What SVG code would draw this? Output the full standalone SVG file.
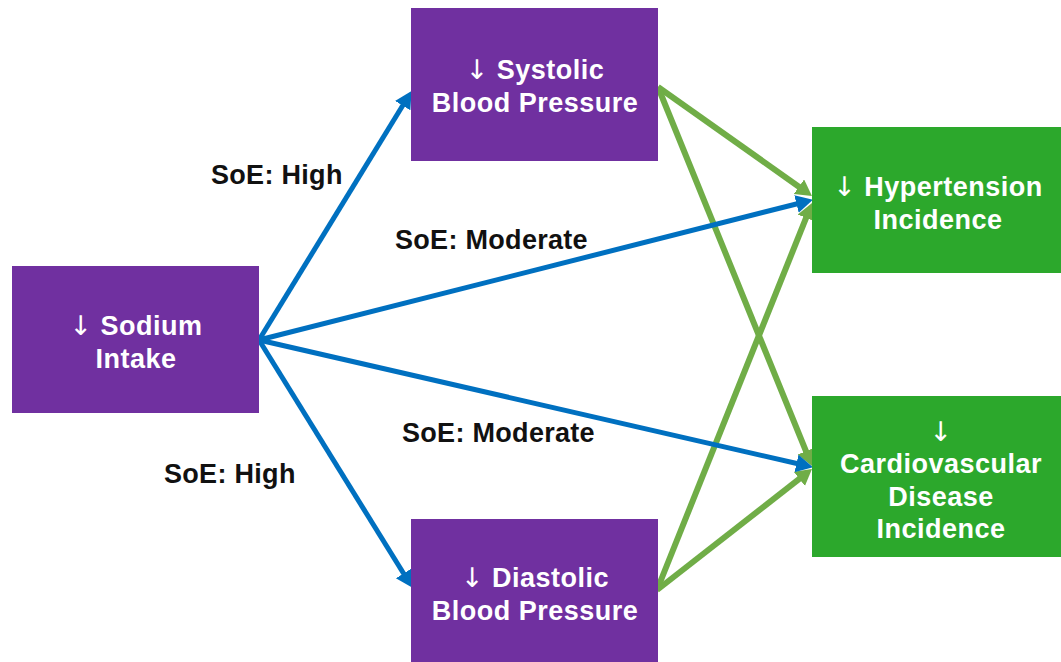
<svg xmlns="http://www.w3.org/2000/svg" width="1061" height="662" viewBox="0 0 1061 662">
<style>
.purple{fill:#7030A0}
.green{fill:#2CA82C}
.nt{font-family:"Liberation Sans",Arial,sans-serif;font-weight:bold;font-size:27px;letter-spacing:0.5px;fill:#ffffff;text-anchor:middle}
.ar{font-family:"DejaVu Sans",sans-serif;font-weight:normal}
.lt{font-family:"Liberation Sans",Arial,sans-serif;font-weight:bold;font-size:27px;letter-spacing:0.3px;fill:#111111}
.blue{stroke:#0070C0;stroke-width:5;fill:none;marker-end:url(#ab)}
.gl{stroke:#70AD47;stroke-width:6;fill:none;marker-end:url(#ag)}
</style>
<defs>
<marker id="ab" markerUnits="userSpaceOnUse" markerWidth="20" markerHeight="20" refX="6" refY="9" orient="auto"><path d="M0,0 L17,9 L0,18 z" fill="#0070C0"/></marker>
<marker id="ag" markerUnits="userSpaceOnUse" markerWidth="20" markerHeight="20" refX="6" refY="9" orient="auto"><path d="M0,0 L16,9 L0,18 z" fill="#70AD47"/></marker>
</defs>
<rect width="1061" height="662" fill="#ffffff"/>
<g id="labels">
<text class="lt" x="211" y="184">SoE: High</text>
<text class="lt" x="395" y="249">SoE: Moderate</text>
<text class="lt" x="402" y="442">SoE: Moderate</text>
<text class="lt" x="164" y="483">SoE: High</text>
</g>
<g id="connectors">
<line class="gl" x1="658" y1="87" x2="803.8" y2="190.2"/>
<line class="gl" x1="658" y1="87" x2="808.2" y2="456.7"/>
<line class="gl" x1="657" y1="590" x2="808.3" y2="212.3"/>
<line class="gl" x1="657" y1="590" x2="804.1" y2="475.2"/>
<line class="blue" x1="259" y1="340" x2="405.8" y2="100.5"/>
<line class="blue" x1="259" y1="340" x2="802.3" y2="202.5"/>
<line class="blue" x1="259" y1="340" x2="802.3" y2="464.8"/>
<line class="blue" x1="259" y1="340" x2="406.7" y2="578.5"/>
</g>
<g id="sodium">
<rect class="purple" x="12" y="266" width="247" height="147"/>
<text class="nt" x="136" y="335"><tspan class="ar">↓</tspan> Sodium</text>
<text class="nt" x="136" y="368">Intake</text>
</g>
<g id="systolic">
<rect class="purple" x="411" y="8" width="247" height="153"/>
<text class="nt" x="535" y="79"><tspan class="ar">↓</tspan> Systolic</text>
<text class="nt" x="535" y="112">Blood Pressure</text>
</g>
<g id="diastolic">
<rect class="purple" x="411" y="519" width="247" height="143"/>
<text class="nt" x="535" y="587"><tspan class="ar">↓</tspan> Diastolic</text>
<text class="nt" x="535" y="620">Blood Pressure</text>
</g>
<g id="hypertension">
<rect class="green" x="812" y="127" width="249" height="146"/>
<text class="nt" x="938" y="196"><tspan class="ar">↓</tspan> Hypertension</text>
<text class="nt" x="938" y="229">Incidence</text>
</g>
<g id="cvd">
<rect class="green" x="812" y="396" width="249" height="161"/>
<text class="nt" x="941" y="441"><tspan class="ar">↓</tspan></text>
<text class="nt" x="941" y="473">Cardiovascular</text>
<text class="nt" x="941" y="506">Disease</text>
<text class="nt" x="941" y="538">Incidence</text>
</g>
</svg>
